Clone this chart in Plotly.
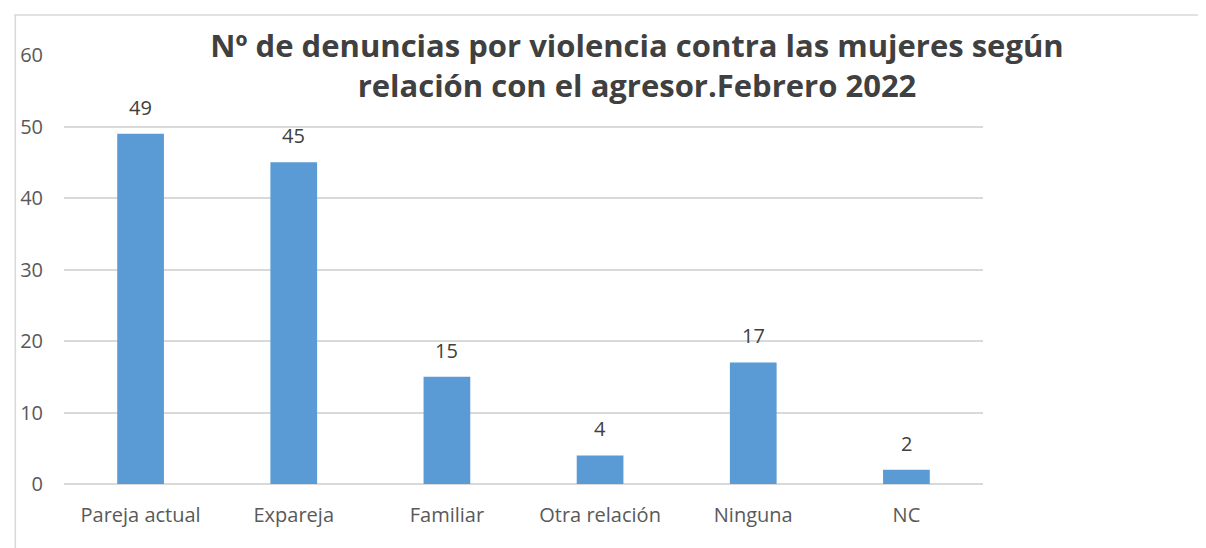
import plotly.graph_objects as go

categories = ["Pareja actual", "Expareja", "Familiar", "Otra relación", "Ninguna", "NC"]
values = [49, 45, 15, 4, 17, 2]
title_text = "Nº de denuncias por violencia contra las mujeres según<br>relación con el agresor.Febrero 2022"
y_ticks = [0, 10, 20, 30, 40, 50, 60]

W, H = 1206, 548
L, R, T, B = 50, 231, 47, 72
PW, PH = W - L - R, H - T - B

fig = go.Figure()
fig.add_trace(go.Bar(
    x=categories, y=values,
    marker=dict(color="#5B9BD5", line=dict(width=0)),
    width=0.305,
    cliponaxis=False,
))

for c, v in zip(categories, values):
    fig.add_annotation(
        x=c, y=v, text=str(v), showarrow=False,
        yanchor="bottom", yshift=11,
        font=dict(family="Open Sans", size=20, color="#404040"),
    )

fig.update_layout(
    width=W, height=H,
    margin=dict(l=L, r=R, t=T, b=B),
    paper_bgcolor="white", plot_bgcolor="white",
    showlegend=False,
    font=dict(family="Open Sans", size=20, color="#595959"),
    title=dict(
        text=title_text,
        x=629 / W, xanchor="center", xref="container",
        y=1 - 49 / H, yanchor="middle", yref="container",
        font=dict(family="Open Sans", size=31, color="#404040", weight="bold"),
    ),
    xaxis=dict(
        showgrid=False, showline=False, zeroline=False, ticks="",
        ticklabelstandoff=17,
        tickfont=dict(family="Open Sans", size=20, color="#595959"),
    ),
    yaxis=dict(
        range=[0, 60], tickvals=y_ticks,
        showgrid=True, gridcolor="#D9D9D9", gridwidth=1.5,
        zeroline=True, zerolinecolor="#D9D9D9", zerolinewidth=1.5,
        showline=False, ticks="", ticklabelstandoff=20,
        tickfont=dict(family="Open Sans", size=20, color="#595959"),
    ),
    shapes=[
        dict(type="line", xref="paper", yref="paper",
             x0=-L / PW, x1=(W - L) / PW, y0=1 + (T - 7) / PH, y1=1 + (T - 7) / PH,
             line=dict(color="#D9D9D9", width=1.5)),
        dict(type="line", xref="paper", yref="paper",
             x0=-L / PW + 1 / PW, x1=-L / PW + 1 / PW, y0=1 + (T - 7) / PH, y1=-B / PH,
             line=dict(color="#D9D9D9", width=1.5)),
    ],
)

fig.write_html("out.html")
